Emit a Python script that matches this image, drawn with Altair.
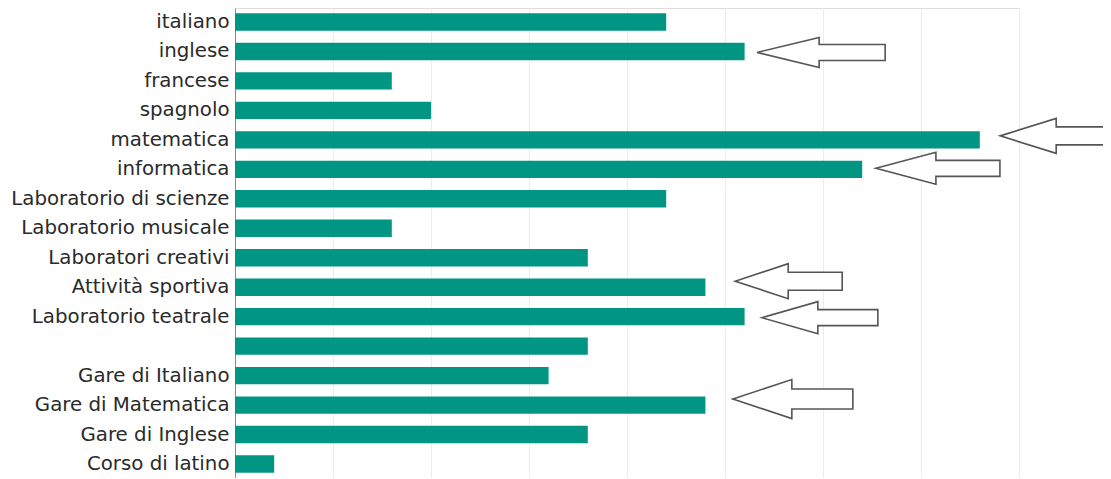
import altair as alt
import pandas as pd

categories = [
    "italiano", "inglese", "francese", "spagnolo", "matematica", "informatica",
    "Laboratorio di scienze", "Laboratorio musicale", "Laboratori creativi",
    "Attività sportiva", "Laboratorio teatrale", " ", "Gare di Italiano",
    "Gare di Matematica", "Gare di Inglese", "Corso di latino",
]
values = [11, 13, 4, 5, 19, 16, 11, 4, 9, 12, 13, 9, 8, 12, 9, 1]

# arrows: which category, gap between bar end and arrow tip (value units)
arrow_cats = ["inglese", "matematica", "informatica", "Attività sportiva",
              "Laboratorio teatrale", "Gare di Matematica"]
arrow_gaps = [0.32, 0.52, 0.35, 0.76, 0.44, 0.70]
# arrow style: total length, head length, head half-height, shaft half-height, vertical shift (px)
arrow_len = [128, 150, 124, 107, 116, 120]
arrow_head = [62, 56, 60, 53, 56, 59]
arrow_hh = [15, 17.5, 16, 17.5, 16, 19.5]
arrow_sh = [8, 9, 8, 9, 8, 10]
arrow_dy = [1, -4, -1, -6, 1, -6]

df = pd.DataFrame({"cat": categories, "val": values})

val_of = dict(zip(categories, values))


def arrow_path(L, h, hh, sh, dy):
    return (f"M0,{dy} L{h},{dy - hh} L{h},{dy - sh} L{L},{dy - sh} "
            f"L{L},{dy + sh} L{h},{dy + sh} L{h},{dy + hh} Z")


adf = pd.DataFrame({
    "cat": arrow_cats,
    "tip": [val_of[c] + g for c, g in zip(arrow_cats, arrow_gaps)],
    "path": [arrow_path(*a) for a in zip(arrow_len, arrow_head, arrow_hh, arrow_sh, arrow_dy)],
})

xscale = alt.Scale(domain=[0, 20], nice=False)
yscale = alt.Scale(paddingInner=0.41, paddingOuter=0.18)

bars = alt.Chart(df).mark_bar(color="#009683").encode(
    x=alt.X("val:Q", scale=xscale,
            axis=alt.Axis(values=[i * 2.5 for i in range(9)], title=None,
                          labels=False, ticks=False, domain=False,
                          grid=True, gridColor="#ececec")),
    y=alt.Y("cat:N", sort=categories, scale=yscale,
            axis=alt.Axis(title=None, ticks=False, labelPadding=6,
                          labelFont="DejaVu Sans", labelFontSize=19.8,
                          labelColor="#2a2a2a", labelLimit=400,
                          domain=True, domainColor="#888888", grid=False)),
)

arrows = alt.Chart(adf).mark_point(
    filled=True, fill="white", stroke="#555555", strokeWidth=1.6, opacity=1
).encode(
    x=alt.X("tip:Q", scale=xscale),
    y=alt.Y("cat:N", sort=categories, scale=yscale),
    shape=alt.Shape("path:N", scale=None),
    size=alt.value(4),
)

chart = alt.layer(bars, arrows).properties(
    width=784, height=470,
    autosize=alt.AutoSizeParams(type="none"),
    padding={"left": 227, "top": 0, "right": 84, "bottom": 0},
).configure_view(stroke="#eeeeee").configure(background="white")

chart.save("out.html", embed_options={"renderer": "svg", "actions": False})
